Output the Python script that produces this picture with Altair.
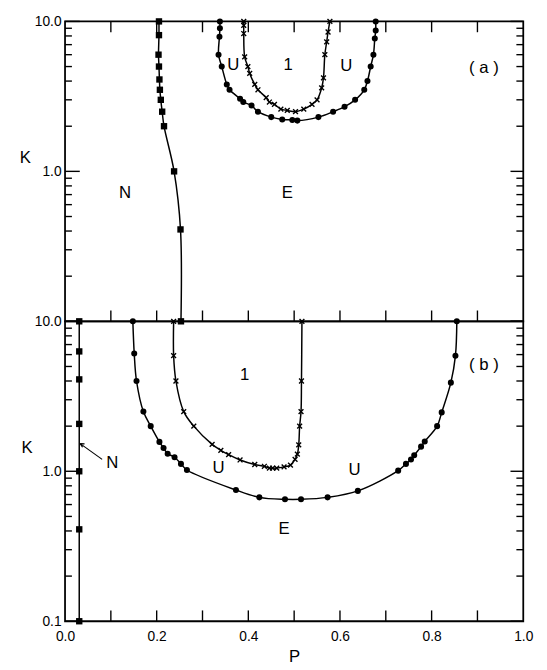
import altair as alt
import pandas as pd

# ---------------- data ----------------
# panel (a)
a_N_P = [0.205, 0.205, 0.204, 0.205, 0.206, 0.207, 0.209, 0.212, 0.216, 0.238, 0.252, 0.253]
a_N_K = [10, 8.1, 6.0, 5.0, 4.1, 3.5, 3.0, 2.5, 2.0, 1.0, 0.41, 0.1]

a_U_P = [0.338, 0.338, 0.337, 0.335, 0.342, 0.353, 0.359, 0.382, 0.389, 0.407, 0.421, 0.450, 0.474,
         0.496, 0.507, 0.553, 0.585, 0.610, 0.633, 0.653, 0.660, 0.667, 0.673, 0.676, 0.678, 0.678]
a_U_K = [10, 9.0, 7.9, 6.0, 5.0, 3.8, 3.5, 3.05, 2.9, 2.75, 2.5, 2.3, 2.22,
         2.2, 2.18, 2.3, 2.5, 2.7, 3.0, 3.5, 4.0, 5.0, 6.0, 7.7, 8.7, 10]

a_X_P = [0.390, 0.390, 0.390, 0.392, 0.399, 0.403, 0.414, 0.421, 0.439, 0.446, 0.457, 0.471,
         0.485, 0.503, 0.521, 0.539, 0.550, 0.560, 0.564, 0.567, 0.571, 0.574, 0.578]
a_X_K = [10, 9.4, 8.3, 5.8, 5.0, 4.5, 3.8, 3.5, 3.1, 2.9, 2.8, 2.6,
         2.55, 2.5, 2.6, 2.8, 3.0, 3.6, 4.2, 6.0, 7.3, 8.5, 10]

a_lbl_text = ["N", "E", "U", "1", "U", "( a )"]
a_lbl_P = [0.131, 0.485, 0.367, 0.487, 0.614, 0.914]
a_lbl_K = [0.72, 0.72, 5.1, 5.1, 5.0, 4.9]

# panel (b)
b_N_P = [0.031, 0.031, 0.031, 0.031, 0.031, 0.031, 0.031]
b_N_K = [10, 6.3, 4.1, 2.07, 1.0, 0.41, 0.1]

b_U_P = [0.148, 0.151, 0.156, 0.171, 0.187, 0.206, 0.215, 0.224, 0.239, 0.253, 0.266, 0.373, 0.424,
         0.480, 0.515, 0.573, 0.639, 0.727, 0.744, 0.755, 0.762, 0.777, 0.785, 0.812, 0.822, 0.842,
         0.852, 0.855]
b_U_K = [10, 6.1, 4.0, 2.5, 2.0, 1.57, 1.43, 1.31, 1.24, 1.12, 1.02, 0.75, 0.67,
         0.65, 0.65, 0.67, 0.74, 1.01, 1.12, 1.2, 1.28, 1.46, 1.58, 2.0, 2.47, 3.9,
         5.9, 10]

b_X_P = [0.237, 0.237, 0.242, 0.259, 0.281, 0.321, 0.340, 0.357, 0.382, 0.414, 0.435, 0.446,
         0.453, 0.462, 0.478, 0.492, 0.502, 0.507, 0.510, 0.512, 0.515, 0.516, 0.517]
b_X_K = [10, 5.9, 4.0, 2.5, 2.0, 1.51, 1.38, 1.29, 1.19, 1.11, 1.08, 1.05,
         1.05, 1.05, 1.07, 1.1, 1.2, 1.3, 1.5, 2.0, 2.5, 4.0, 10]

b_lbl_text = ["N", "E", "U", "1", "U", "( b )"]
b_lbl_P = [0.103, 0.478, 0.335, 0.392, 0.632, 0.914]
b_lbl_K = [1.13, 0.41, 1.05, 4.4, 1.02, 5.1]

# arrow from the "N" label to the curve in panel (b): tail, head
b_arrow_P = [0.081, 0.033]
b_arrow_K = [1.2, 1.53]

# axis tick values
x_tick_labels = [0.0, 0.2, 0.4, 0.6, 0.8, 1.0]
x_ticks = [0.1, 0.2, 0.3, 0.4, 0.5, 0.6, 0.7, 0.8, 0.9]
y_major = [0.1, 1.0, 10.0]
y_minor = [0.2, 0.3, 0.4, 0.5, 0.6, 0.7, 0.8, 0.9, 2, 3, 4, 5, 6, 7, 8, 9]

# ---------------- chart ----------------
W, H = 466, 305
FONT = "Liberation Sans"

xs = alt.Scale(domain=[0, 1], nice=False, zero=False)
ys = alt.Scale(type="log", domain=[0.1, 10], nice=False)


def curves_df(specs):
    frames = []
    for name, P, K, marker in specs:
        frames.append(pd.DataFrame({"P": P, "K": K, "curve": name,
                                    "marker": marker, "i": list(range(len(P)))}))
    return pd.concat(frames, ignore_index=True)


def panel(df, lbl, xaxis, yaxis, arrow=None, top_ticks=True):
    X = alt.X("P:Q", scale=xs, axis=xaxis)
    Y = alt.Y("K:Q", scale=ys, axis=yaxis)
    base = alt.Chart(df)
    lines = base.mark_line(color="black", strokeWidth=1.5, interpolate="catmull-rom").encode(
        x=X, y=Y, detail="curve:N", order="i:Q")
    circles = base.transform_filter(alt.datum.marker == "circle").mark_point(
        shape="circle", filled=True, color="black", size=38, opacity=1).encode(x=X, y=Y)
    squares = base.transform_filter(alt.datum.marker == "square").mark_point(
        shape="square", filled=True, color="black", size=42, opacity=1).encode(x=X, y=Y)
    crosses = base.transform_filter(alt.datum.marker == "cross").mark_point(
        shape="M-1,-1L1,1M-1,1L1,-1", filled=False, color="black", strokeWidth=1.4,
        size=24, opacity=1).encode(x=X, y=Y)
    texts = alt.Chart(lbl).mark_text(font=FONT, fontSize=17, color="black",
                                     baseline="middle", align="center").encode(
        x=X, y=Y, text="t:N")

    ymaj = pd.DataFrame({"K": y_major})
    ymin = pd.DataFrame({"K": y_minor})
    xt = pd.DataFrame({"P": x_ticks})
    tk = dict(color="black", strokeWidth=1.4)
    layers = [lines, circles, squares, crosses, texts,
              alt.Chart(ymaj).mark_rule(**tk).encode(y=Y, x=alt.value(0), x2=alt.value(15)),
              alt.Chart(ymaj).mark_rule(**tk).encode(y=Y, x=alt.value(W), x2=alt.value(W - 13)),
              alt.Chart(ymin).mark_rule(**tk).encode(y=Y, x=alt.value(0), x2=alt.value(7)),
              alt.Chart(ymin).mark_rule(**tk).encode(y=Y, x=alt.value(W), x2=alt.value(W - 7)),
              alt.Chart(xt).mark_rule(**tk).encode(x=X, y=alt.value(H), y2=alt.value(H - 11)),
              ]
    if top_ticks:
        layers.append(alt.Chart(xt).mark_rule(**tk).encode(x=X, y=alt.value(0), y2=alt.value(11)))
    if arrow is not None:
        seg = pd.DataFrame({"P": [arrow[0][0]], "K": [arrow[1][0]],
                            "P2": [arrow[0][1]], "K2": [arrow[1][1]]})
        head = pd.DataFrame({"P": [arrow[0][1]], "K": [arrow[1][1]]})
        layers.append(alt.Chart(seg).mark_rule(color="black", strokeWidth=1.1).encode(
            x=X, y=Y, x2="P2:Q", y2="K2:Q"))
        layers.append(alt.Chart(head).mark_point(
            shape="M0,0L1,-0.5M0,0L1,0.5", filled=False, color="black", strokeWidth=1.3,
            size=64, angle=30, opacity=1).encode(x=X, y=Y))
    return alt.layer(*layers).properties(
        width=W, height=H,
        view=alt.ViewBackground(stroke="black", strokeWidth=1.8, strokeOpacity=1))


df_a = curves_df([("aN", a_N_P, a_N_K, "square"),
                  ("aU", a_U_P, a_U_K, "circle"),
                  ("aX", a_X_P, a_X_K, "cross")])
df_b = curves_df([("bN", b_N_P, b_N_K, "square"),
                  ("bU", b_U_P, b_U_K, "circle"),
                  ("bX", b_X_P, b_X_K, "cross")])
lbl_a = pd.DataFrame({"t": a_lbl_text, "P": a_lbl_P, "K": a_lbl_K})
lbl_b = pd.DataFrame({"t": b_lbl_text, "P": b_lbl_P, "K": b_lbl_K})

yaxis_a = alt.Axis(values=[1.0, 10.0], format=".1f", ticks=False, domain=False, grid=False,
                   labelFontSize=14, labelPadding=4, title="K", titleAngle=0,
                   titleFontSize=17, titleFontWeight="normal", titleAlign="center",
                   titleBaseline="middle", titleX=-41, titleY=138)
yaxis_b = alt.Axis(values=y_major, format=".1f", ticks=False, domain=False, grid=False,
                   labelFontSize=14, labelPadding=4, title="K", titleAngle=0,
                   titleFontSize=17, titleFontWeight="normal", titleAlign="center",
                   titleBaseline="middle", titleX=-39, titleY=128)
xaxis_b = alt.Axis(values=x_tick_labels, format=".1f", ticks=False, domain=False, grid=False,
                   labelFontSize=14, labelPadding=9, labelFlush=False, title="P",
                   titleFontSize=17, titleFontWeight="normal", titlePadding=5)

top = panel(df_a, lbl_a, None, yaxis_a, top_ticks=True)
bottom = panel(df_b, lbl_b, xaxis_b, yaxis_b, arrow=(b_arrow_P, b_arrow_K), top_ticks=False)

chart = alt.vconcat(top, bottom, spacing=0, bounds="flush").properties(
    padding={"left": 10, "top": 0, "right": 5, "bottom": 2}
).configure_view(stroke="black", strokeWidth=1.8).configure_axis(
    labelFont=FONT, titleFont=FONT, labelColor="black", titleColor="black"
).configure(background="white")

chart.save("out.html", embed_options={"renderer": "svg", "actions": False})
